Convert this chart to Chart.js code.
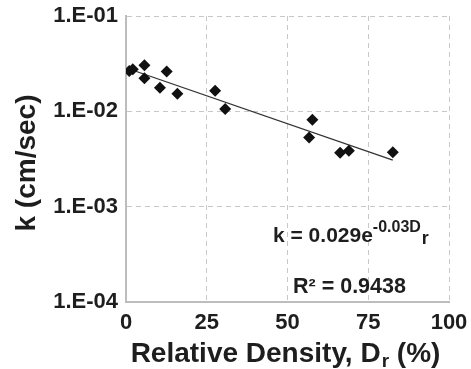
<!DOCTYPE html>
<html>
<head>
<meta charset="utf-8">
<script src="https://cdn.jsdelivr.net/npm/chart.js@4"></script>
<style>
html,body{margin:0;padding:0;background:#fff;}
#wrap{width:471px;height:369px;}
</style>
</head>
<body>
<div id="wrap"><canvas id="c" width="471" height="369"></canvas></div>
<script>
// ---- data ----
const densityX = [1.0, 2.1, 5.7, 5.7, 10.5, 12.6, 15.9, 27.6, 30.7, 57.7, 56.7, 66.3, 69.0, 82.6];
const kValues  = [0.0265, 0.0276, 0.0304, 0.0222, 0.0177, 0.0261, 0.0153, 0.0164, 0.0106, 0.00817, 0.00533, 0.00368, 0.00386, 0.00372];
const trendX = [1.0, 82.6];
const trendK = [0.0278, 0.00308];
const xTicks = [0, 25, 50, 75, 100];
const yTicks = [0.0001, 0.001, 0.01, 0.1];
const yTickLabels = ['1.E-04', '1.E-03', '1.E-02', '1.E-01'];
const xTitle = ['Relative Density, D', 'r', ' (%)'];
const yTitle = 'k (cm/sec)';
const eqParts = ['k = 0.029e', '-0.03D', 'r'];
const r2Text = 'R\u00B2 = 0.9438';

const FONT = '"Liberation Sans", Arial, Helvetica, sans-serif';
const TXT = '#1e1e1e';

const textPlugin = {
  id: 'texts',
  afterDraw(chart) {
    const ctx = chart.ctx;
    const xs = chart.scales.x, ys = chart.scales.y;
    ctx.save();
    ctx.fillStyle = TXT;
    ctx.textBaseline = 'alphabetic';
    // x title with subscript
    const bigF = 'bold 28px ' + FONT, subF = 'bold 19px ' + FONT;
    ctx.font = bigF; const w1 = ctx.measureText(xTitle[0]).width;
    ctx.font = subF; const w2 = ctx.measureText(xTitle[1]).width;
    ctx.font = bigF; const w3 = ctx.measureText(xTitle[2]).width;
    const cx = (xs.left + xs.right) / 2 - 2;
    let x0 = cx - (w1 + w2 + w3 + 1) / 2;
    const by = 362;
    ctx.textAlign = 'left';
    ctx.font = bigF; ctx.fillText(xTitle[0], x0, by);
    ctx.font = subF; ctx.fillText(xTitle[1], x0 + w1 + 1, by + 5);
    ctx.font = bigF; ctx.fillText(xTitle[2], x0 + w1 + w2 + 1, by);
    // y title rotated
    ctx.save();
    ctx.translate(35, (ys.top + ys.bottom) / 2 + 4);
    ctx.rotate(-Math.PI / 2);
    ctx.textAlign = 'center';
    ctx.font = bigF;
    ctx.fillText(yTitle, 0, 0);
    ctx.restore();
    // equation
    ctx.textAlign = 'left';
    const eqF = 'bold 21px ' + FONT, supF = 'bold 16px ' + FONT, ssF = 'bold 18px ' + FONT;
    let ex = 273;
    ctx.font = eqF; ctx.fillText(eqParts[0], ex, 241.5);
    ex += ctx.measureText(eqParts[0]).width;
    ctx.font = supF; ctx.fillText(eqParts[1], ex, 231.5);
    ex += ctx.measureText(eqParts[1]).width;
    ctx.font = ssF; ctx.fillText(eqParts[2], ex + 1, 244);
    // R2
    ctx.font = 'bold 21.5px ' + FONT;
    ctx.fillText(r2Text, 293, 292.5);
    ctx.restore();
  }
};

function zeroPad(s) { s.paddingLeft = 0; s.paddingRight = 0; s.paddingTop = 0; s.paddingBottom = 0; }

new Chart(document.getElementById('c'), {
  type: 'scatter',
  data: {
    datasets: [
      {
        label: 'data',
        data: densityX.map((x, i) => ({x: x, y: kValues[i]})),
        pointStyle: 'rectRot',
        pointRadius: 6,
        pointHoverRadius: 6,
        backgroundColor: '#111',
        borderColor: '#111',
        borderWidth: 0,
        showLine: false,
        order: 1
      },
      {
        label: 'trend',
        data: trendX.map((x, i) => ({x: x, y: trendK[i]})),
        showLine: true,
        pointRadius: 0,
        borderColor: '#333',
        borderWidth: 1.3,
        fill: false,
        order: 2
      }
    ]
  },
  options: {
    responsive: false,
    devicePixelRatio: 1,
    animation: false,
    events: [],
    layout: {padding: {left: 0, right: 22, top: 16, bottom: 0}},
    plugins: {legend: {display: false}, tooltip: {enabled: false}},
    scales: {
      x: {
        type: 'linear',
        min: 0, max: 100,
        afterBuildTicks: s => { s.ticks = xTicks.map(v => ({value: v})); },
        afterFit: s => { s.height = 67; zeroPad(s); },
        grid: {color: '#c8c8c8', lineWidth: 1, drawTicks: false},
        border: {display: true, color: '#bdbdbd', width: 2, dash: [5, 4]},
        ticks: {
          padding: 8,
          color: TXT,
          font: {family: FONT, size: 22, weight: 'bold'},
          maxRotation: 0,
          callback: v => String(v)
        }
      },
      y: {
        type: 'logarithmic',
        min: 0.0001, max: 0.1,
        afterBuildTicks: s => { s.ticks = yTicks.map(v => ({value: v})); },
        afterFit: s => { s.width = 126; zeroPad(s); },
        grid: {color: '#c8c8c8', lineWidth: 1, drawTicks: false},
        border: {display: true, color: '#bdbdbd', width: 2, dash: [5, 4]},
        ticks: {
          padding: 8,
          color: TXT,
          font: {family: FONT, size: 22, weight: 'bold'},
          callback: (v) => { const i = yTicks.findIndex(t => Math.abs(t - v) / t < 1e-6); return i >= 0 ? yTickLabels[i] : ''; }
        }
      }
    }
  },
  plugins: [textPlugin]
});
</script>
</body>
</html>
